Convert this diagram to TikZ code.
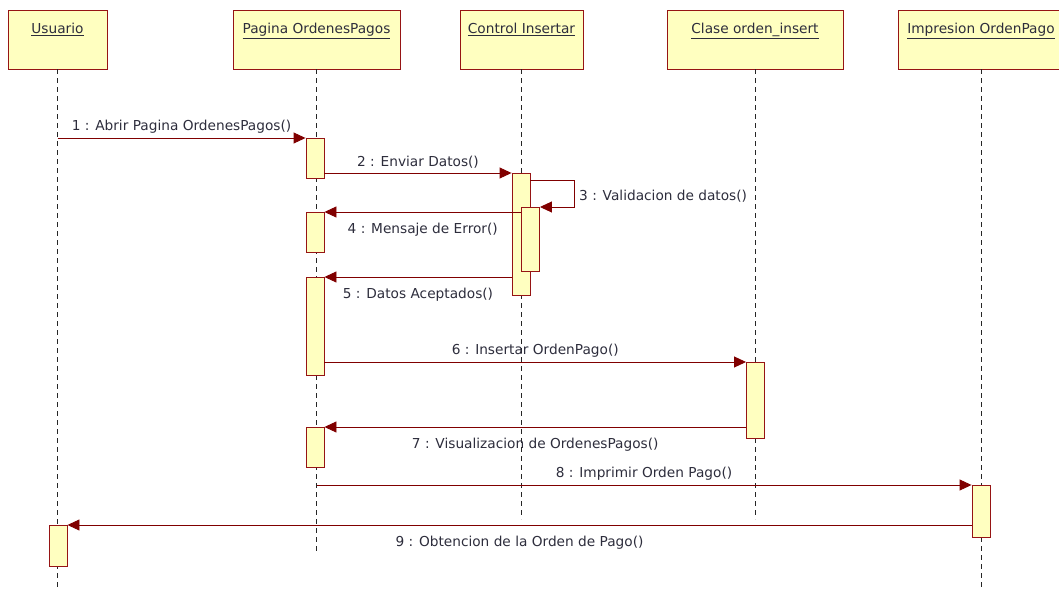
\documentclass[tikz,border=0pt]{standalone}
\usepackage{fontspec}
\setmainfont{DejaVu Sans}
\usetikzlibrary{arrows.meta}
\definecolor{bordeobj}{RGB}{150,20,20}
\definecolor{rellenoobj}{RGB}{255,255,192}
\definecolor{linmsg}{RGB}{128,0,0}
\definecolor{textomsg}{RGB}{45,45,60}
\begin{document}
\begin{tikzpicture}[x=1pt, y=-1pt,
    font=\fontsize{13.7}{16}\selectfont, text=textomsg,
    cabecera/.style={draw=bordeobj, fill=rellenoobj, line width=0.9pt, minimum height=59,
        text height=17, text depth=29, inner ysep=6.5, inner xsep=0},
    activ/.style={draw=bordeobj, fill=rellenoobj, line width=0.9pt, minimum width=18,
        inner sep=0, anchor=north},
    vida/.style={dashed, dash pattern=on 5pt off 4pt, line width=0.8pt, black!85},
    msg/.style={draw=linmsg, line width=0.9pt, -{Triangle[length=12pt,width=11pt]}},
    arriba/.style={midway, above=1pt},
    abajo/.style={midway, below=7pt}]
    \useasboundingbox (0,0) rectangle (1059,593);
    % Objetos
    \node[cabecera, minimum width=99] (usr) at (57.5,39.5) {\underline{Usuario}};
    \node[cabecera, minimum width=167] (pag) at (316.5,39.5) {\underline{Pagina OrdenesPagos}};
    \node[cabecera, minimum width=123] (ctl) at (521.5,39.5) {\underline{Control Insertar}};
    \node[cabecera, minimum width=176] (cla) at (755,39.5) {\underline{Clase orden\_insert}};
    \node[cabecera, minimum width=166] (imp) at (981,39.5) {\underline{Impresion OrdenPago}};
    
    % Lineas de vida
    \draw[vida] (usr.south) -- ++(0,521);
    \draw[vida] (pag.south) -- ++(0,484);
    \draw[vida] (ctl.south) -- ++(0,450);
    \draw[vida] (cla.south) -- ++(0,450);
    \draw[vida] (imp.south) -- ++(0,521);
    
    % Activaciones
    \node[activ, minimum height=40] (p1) at (315,138) {};
    \node[activ, minimum height=122] (c1) at (521,173) {};
    \node[activ, minimum height=64] (c2) at (530.5,207) {};
    \node[activ, minimum height=40] (p2) at (315,212) {};
    \node[activ, minimum height=98] (p3) at (315,277) {};
    \node[activ, minimum height=76] (k1) at (755.5,362) {};
    \node[activ, minimum height=40] (p4) at (315,427) {};
    \node[activ, minimum height=52] (i1) at (981,485) {};
    \node[activ, minimum height=41] (u1) at (58,525) {};
    
    % Mensajes
    \draw[msg] (usr.south |- p1.north) -- (p1.north west) node[arriba] {1 : Abrir Pagina OrdenesPagos()};
    \draw[msg] (p1.east |- c1.north) -- (c1.north west) node[arriba] {2 : Enviar Datos()};
    \draw[msg] (c1.east |- 0,180) -- ++(44,0) |- (c2.north east) node[pos=0.3, right=1pt] {3 : Validacion de datos()};
    \draw[msg] (c2.west |- p2.north) -- (p2.north east) node[abajo] {4 : Mensaje de Error()};
    \draw[msg] (c1.west |- p3.north) -- (p3.north east) node[abajo] {5 : Datos Aceptados()};
    \draw[msg] (p3.east |- k1.north) -- (k1.north west) node[arriba] {6 : Insertar OrdenPago()};
    \draw[msg] (k1.west |- p4.north) -- (p4.north east) node[abajo] {7 : Visualizacion de OrdenesPagos()};
    \draw[msg] (pag.south |- i1.north) -- (i1.north west) node[arriba] {8 : Imprimir Orden Pago()};
    \draw[msg] (i1.west |- u1.north) -- (u1.north east) node[abajo] {9 : Obtencion de la Orden de Pago()};
\end{tikzpicture}
\end{document}
